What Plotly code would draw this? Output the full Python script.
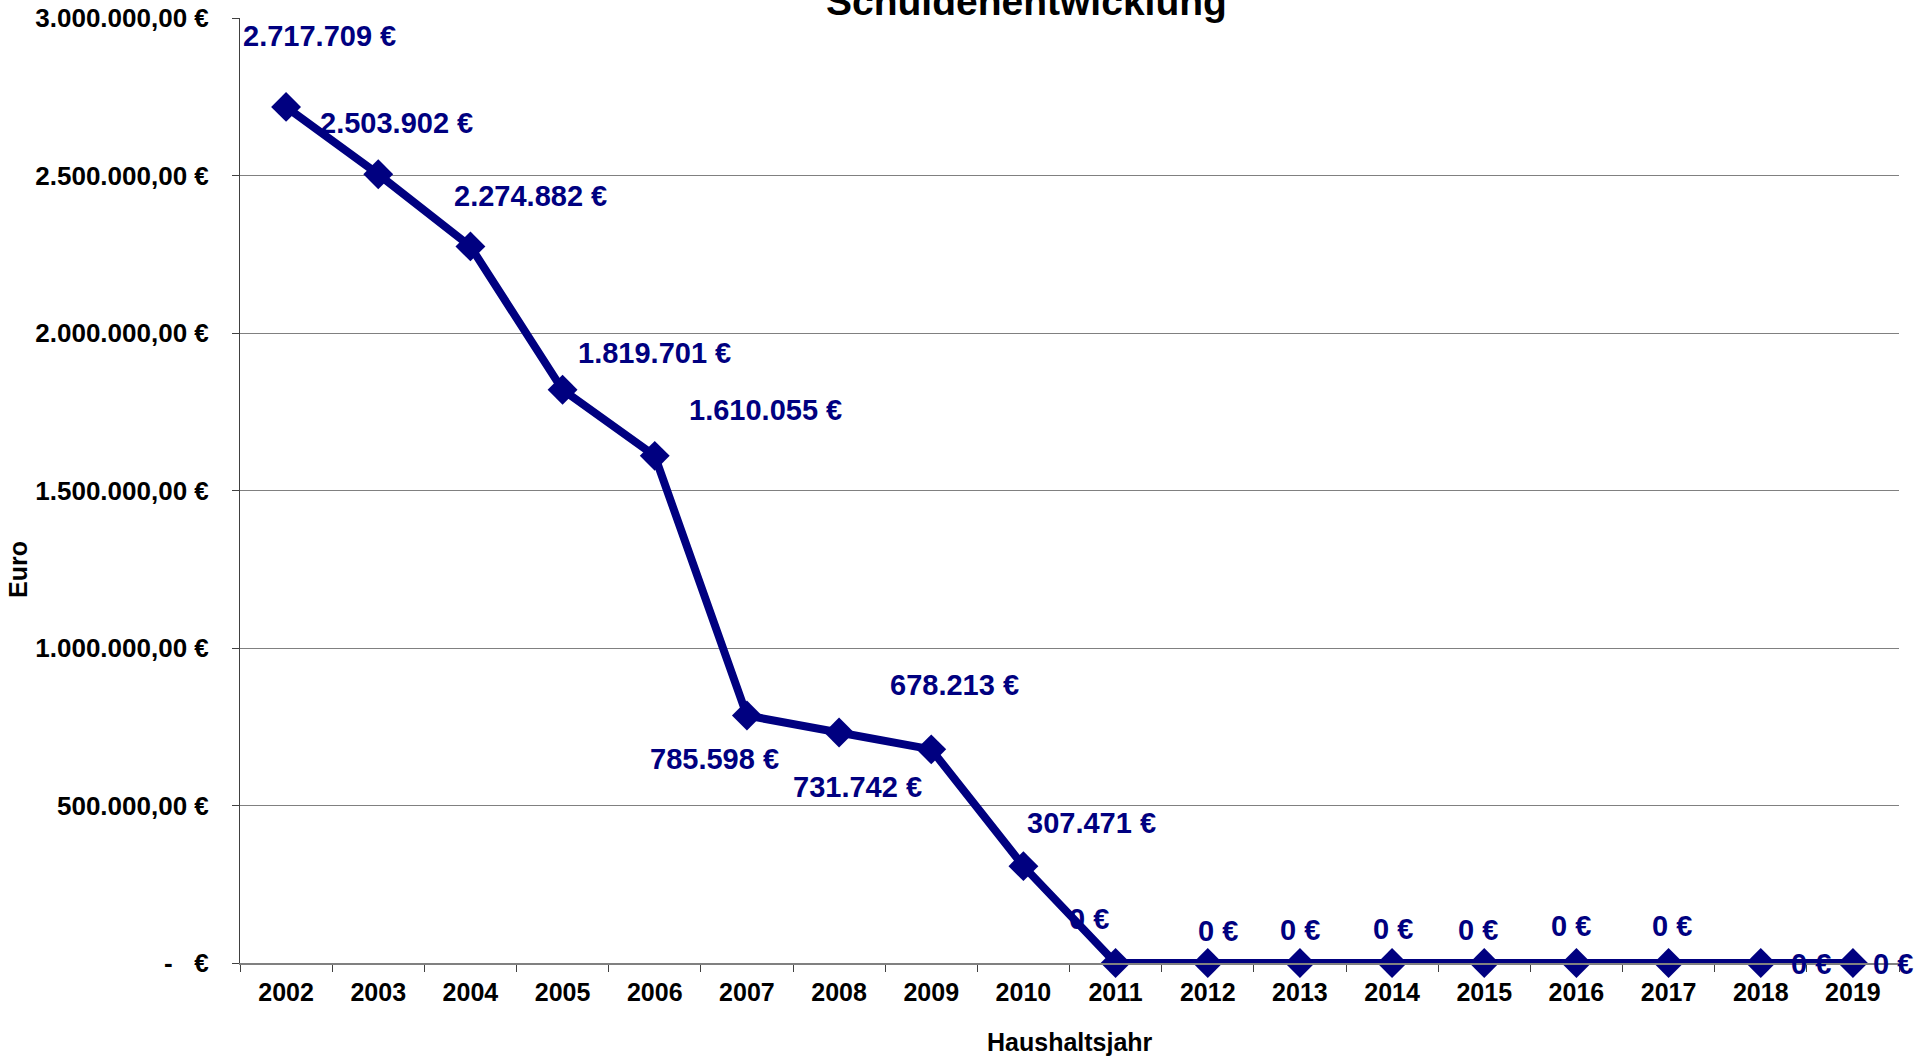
import plotly.graph_objects as go

years = ["2002", "2003", "2004", "2005", "2006", "2007", "2008", "2009", "2010",
         "2011", "2012", "2013", "2014", "2015", "2016", "2017", "2018", "2019"]
debt = [2717709, 2503902, 2274882, 1819701, 1610055, 785598, 731742, 678213, 307471,
        0, 0, 0, 0, 0, 0, 0, 0, 0]
ytick_vals = [0, 500000, 1000000, 1500000, 2000000, 2500000, 3000000]
ytick_text = ["-\u00a0\u00a0\u00a0€", "500.000,00 €", "1.000.000,00 €", "1.500.000,00 €",
              "2.000.000,00 €", "2.500.000,00 €", "3.000.000,00 €"]

# label offsets in pixels (style only)
label_dx = [33, 18, 60, 92, 111, -32, 18, 23, 68, -27, 10, 0, 1, -6, -5, 3, 50, 40]
label_dy = [71, 51, 50, 37, 46, -43, -54, 64, 43, 44, 32, 33, 34, 33, 37, 37, -1, -1]

NAVY = "#000080"
FONT = "Liberation Sans, Arial, sans-serif"

fig = go.Figure()
fig.add_trace(go.Scatter(
    x=years, y=debt, mode="lines+markers",
    line=dict(color=NAVY, width=8),
    marker=dict(symbol="diamond", size=23, color=NAVY),
    showlegend=False, cliponaxis=False,
))

def fmt(v):
    return f"{v:,}".replace(",", ".") + " €"

for i, v in enumerate(debt):
    fig.add_annotation(x=i, y=v, xref="x", yref="y", text=fmt(v), showarrow=False,
                       xanchor="center", yanchor="middle",
                       xshift=label_dx[i], yshift=label_dy[i],
                       font=dict(family=FONT, size=29, color=NAVY, weight="bold"))

fig.add_annotation(text="Schuldenentwicklung", xref="paper", yref="paper",
                   x=0.474, y=1.0175, showarrow=False, xanchor="center", yanchor="middle",
                   font=dict(family=FONT, size=39, color="black", weight="bold"))
fig.add_annotation(text="Euro", xref="paper", yref="paper", x=-0.1338, y=0.416,
                   textangle=-90, showarrow=False, xanchor="center", yanchor="middle",
                   font=dict(family=FONT, size=25, color="black", weight="bold"))
fig.add_annotation(text="Haushaltsjahr", xref="paper", yref="paper", x=0.5, y=-0.0836,
                   showarrow=False, xanchor="center", yanchor="middle",
                   font=dict(family=FONT, size=25, color="black", weight="bold"))

fig.update_layout(
    width=1917, height=1058,
    margin=dict(l=240, r=18, t=18, b=95),
    paper_bgcolor="white", plot_bgcolor="white",
    font=dict(family=FONT, color="black"),
)
fig.update_xaxes(
    type="category", range=[-0.5, 17.5], automargin=False,
    showline=True, linecolor="#808080", linewidth=2,
    ticks="outside", ticklen=7, tickcolor="#404040", tickson="boundaries",
    showgrid=False, tickfont=dict(family=FONT, size=25, color="black", weight="bold"),
    ticklabelstandoff=6,
)
fig.update_yaxes(
    range=[0, 3000000], tickvals=ytick_vals, ticktext=ytick_text, automargin=False,
    showline=True, linecolor="#404040", linewidth=1,
    ticks="outside", ticklen=7, tickcolor="#404040",
    showgrid=True, gridcolor="#808080", gridwidth=1, zeroline=False,
    tickfont=dict(family=FONT, size=26, color="black", weight="bold"),
    ticklabelstandoff=18,
)

fig.write_html("out.html", config={"displayModeBar": False},
               post_script="document.body.style.margin='0';")
